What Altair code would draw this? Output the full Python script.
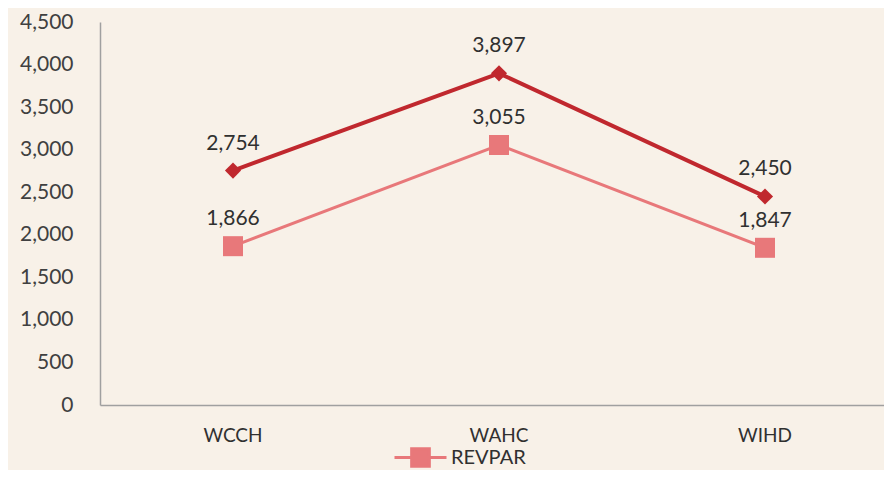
import altair as alt
import pandas as pd

categories = ["WCCH", "WAHC", "WIHD"]
adr = [2754, 3897, 2450]
revpar = [1866, 3055, 1847]
series_names = ["ADR", "REVPAR"]
y_ticks = [0, 500, 1000, 1500, 2000, 2500, 3000, 3500, 4000, 4500]

rows = []
for name, vals in zip(series_names, [adr, revpar]):
    for c, v in zip(categories, vals):
        rows.append({"hotel": c, "value": v, "series": name})
df = pd.DataFrame(rows)

FONT = "Lato"
colors = ["#C0282E", "#E8787A"]

x = alt.X("hotel:N", sort=categories, title=None,
          scale=alt.Scale(type="band", paddingInner=0, paddingOuter=0, range=[0, 798]),
          axis=alt.Axis(labelAngle=0, ticks=False, labelPadding=21, labelFontSize=19,
                        labelFont=FONT, labelColor="#303030", domainColor="#A0A0A0",
                        domainWidth=1.5))
y = alt.Y("value:Q", title=None,
          scale=alt.Scale(domain=[0, 4500], nice=False),
          axis=alt.Axis(values=y_ticks, labelExpr="format(datum.value, ',')", ticks=False,
                        grid=False, labelPadding=27,
                        labelFontSize=21, labelFont=FONT, labelColor="#404040",
                        domainColor="#A0A0A0", domainWidth=1.5))

legend_symbol = "M-1,0H1M-0.34,-0.34H0.34V0.34H-0.34Z"
legend = alt.Legend(values=["REVPAR"], title=None, orient="none", padding=0,
                    legendX=293, legendY=408, labelFontSize=20, labelFont=FONT,
                    labelColor="#303030", labelOffset=3, symbolType=legend_symbol,
                    symbolSize=2704, symbolStrokeWidth=3,
                    symbolFillColor="#E8787A", symbolStrokeColor="#E8787A")
color_scale = alt.Scale(domain=series_names, range=colors)

lines = alt.Chart(df).mark_line().encode(
    x=x, y=y, color=alt.Color("series:N", scale=color_scale, legend=legend),
    strokeWidth=alt.StrokeWidth("series:N", scale=alt.Scale(domain=series_names, range=[4, 3]), legend=None),
)
points = alt.Chart(df).mark_point(filled=True, opacity=1).encode(
    x=x, y=y, color=alt.Color("series:N", scale=color_scale, legend=None),
    shape=alt.Shape("series:N", scale=alt.Scale(domain=series_names, range=["diamond", "square"]), legend=None),
    size=alt.Size("series:N", scale=alt.Scale(domain=series_names, range=[260, 400]), legend=None),
)
labels = alt.Chart(df).mark_text(dy=-27, fontSize=21, font=FONT, color="#303030").encode(
    x=x, y=y, text=alt.Text("value:Q", format=","),
)

chart = alt.layer(lines, points, labels).resolve_legend(color="independent").properties(
    width=784, height=383,
    autosize=alt.AutoSizeParams(type="none"),
    padding={"left": 92, "top": 14, "right": 0, "bottom": 65},
    background="#F8F1E8",
).configure_view(stroke=None)

chart.save("out.html", embed_options={"renderer": "svg", "actions": False})
